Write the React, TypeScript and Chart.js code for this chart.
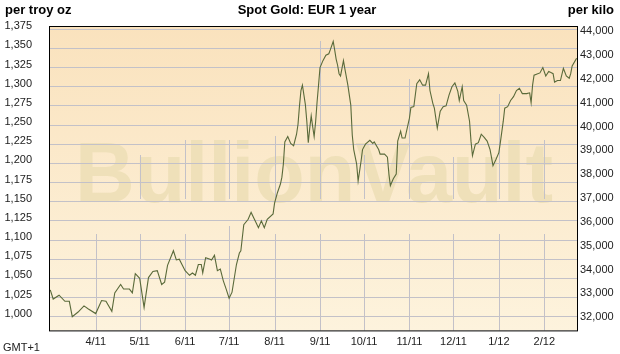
import React, { useEffect, useRef } from "react";
import { Chart, registerables } from "chart.js";

Chart.register(...registerables);

// x values: day number counted from 1 Jan 2011 (day 0)
const days = [
  59, 61, 65, 69, 72, 74, 78, 82, 85, 90, 94, 97, 101, 103, 107, 109, 113, 115, 117, 120,
  123, 126, 129, 132, 135, 137, 139, 143, 145, 147, 151, 154, 156, 158, 160, 162, 163, 165, 168, 169,
  171, 173, 175, 177, 179, 181, 183, 186, 188, 189, 191, 194, 196, 199, 201, 203, 205, 207, 211, 212,
  214, 216, 217, 218, 219, 221, 223, 225, 227, 228, 229, 230, 231, 233, 234, 235, 236, 237, 238, 239,
  240, 241, 242, 243, 245, 247, 249, 250, 252, 253, 254, 255, 256, 257, 259, 260, 262, 264, 265, 266,
  268, 269, 271, 272, 274, 277, 279, 280, 283, 284, 287, 289, 290, 291, 293, 295, 296, 298, 299, 301,
  304, 305, 307, 309, 311, 313, 315, 317, 318, 320, 321, 323, 325, 327, 329, 331, 333, 335, 337, 338,
  340, 341, 343, 345, 346, 347, 349, 351, 353, 355, 357, 359, 361, 363, 365, 366, 368, 369, 371, 373,
  375, 377, 379, 381, 384, 386, 387, 388, 389, 393, 395, 397, 399, 402, 403, 405, 407, 409, 411, 413,
  414, 415, 418,
];

// EUR per troy ounce
const prices = [
  1035, 1023, 1028, 1020, 1020, 1000, 1006, 1014, 1010, 1004, 1021, 1020, 1007, 1031, 1042, 1036, 1036, 1031, 1056, 1050,
  1012, 1051, 1059, 1060, 1042, 1045, 1067, 1086, 1074, 1075, 1060, 1054, 1057, 1054, 1068, 1068, 1057, 1077, 1075, 1074,
  1080, 1060, 1062, 1047, 1036, 1024, 1032, 1068, 1083, 1086, 1120, 1127, 1136, 1124, 1116, 1125, 1116, 1127, 1134, 1148,
  1162, 1173, 1182, 1199, 1228, 1235, 1226, 1223, 1238, 1251, 1275, 1295, 1302, 1277, 1255, 1227, 1246, 1262, 1248, 1235,
  1254, 1280, 1302, 1325, 1334, 1341, 1343, 1348, 1359, 1348, 1336, 1328, 1317, 1314, 1334, 1323, 1302, 1276, 1237, 1218,
  1199, 1177, 1203, 1218, 1225, 1230, 1226, 1228, 1218, 1212, 1212, 1208, 1186, 1171, 1180, 1186, 1229, 1242, 1233, 1233,
  1259, 1273, 1274, 1304, 1309, 1302, 1302, 1317, 1295, 1278, 1272, 1246, 1268, 1274, 1275, 1289, 1300, 1305, 1294, 1282,
  1300, 1282, 1276, 1255, 1229, 1210, 1225, 1227, 1238, 1234, 1229, 1218, 1197, 1205, 1214, 1227, 1255, 1272, 1274, 1282,
  1287, 1295, 1298, 1291, 1291, 1292, 1279, 1302, 1315, 1318, 1325, 1314, 1320, 1317, 1306, 1308, 1308, 1324, 1314, 1311,
  1317, 1327, 1337,
];

const monthDays = [90, 120, 151, 181, 212, 243, 273, 304, 334, 365, 396];
const monthLabels = ["4/11", "5/11", "6/11", "7/11", "8/11", "9/11", "10/11", "11/11", "12/11", "1/12", "2/12"];
const ozTicks = [1000, 1025, 1050, 1075, 1100, 1125, 1150, 1175, 1200, 1225, 1250, 1275, 1300, 1325, 1350, 1375];
const kiloTicks = [32000, 33000, 34000, 35000, 36000, 37000, 38000, 39000, 40000, 41000, 42000, 43000, 44000];

const OZ_PER_KILO = 32.1507;
const X_MIN = 58.14;
const X_MAX = 418.3;
const Y_MIN = 982.06;
const Y_MAX = 1379.2;

const fmt = (v: number) => Math.round(v).toLocaleString("en-US");

// visible pieces of the month grid lines (price units), a quirk of the original image
const upperTops = [null, 1211, 1231, 1231, 1236, 1360, 1211, 1310, 1208, 1290, 1231];
const UPPER_BOTTOM = 1154;
const LOWER_TOP = [1108, 1108, 1108, 1118, 1108, 1108, 1108, 1108, 1108, 1108, 1108];

const decorPlugin = {
  id: "decor",
  beforeDraw(chart: any) {
    const { ctx, chartArea: a, scales } = chart;
    const x = scales.x;
    const y = scales.y;
    ctx.save();
    ctx.fillStyle = "#ffffff";
    ctx.fillRect(0, 0, chart.width, chart.height);
    const g = ctx.createLinearGradient(0, a.top, 0, a.bottom);
    g.addColorStop(0, "#fae2bd");
    g.addColorStop(1, "#fdf3dd");
    ctx.fillStyle = g;
    ctx.fillRect(a.left, a.top, a.right - a.left, a.bottom - a.top);

    // watermark
    ctx.font = "bold 86px 'Liberation Sans', Arial, sans-serif";
    ctx.textBaseline = "alphabetic";
    ctx.textAlign = "left";
    const text = "BullionVault";
    const w = ctx.measureText(text).width;
    const targetW = 478;
    ctx.fillStyle = "#efe0b9";
    ctx.save();
    ctx.translate(a.left + 26, a.top + 176);
    ctx.scale(targetW / w, 1);
    ctx.fillText(text, 0, 0);
    ctx.restore();

    // month grid lines
    ctx.strokeStyle = "#c3c1c8";
    ctx.lineWidth = 1;
    monthDays.forEach((d, i) => {
      const px = Math.round(x.getPixelForValue(d)) + 0.5;
      ctx.beginPath();
      ctx.moveTo(px, a.bottom);
      ctx.lineTo(px, Math.round(y.getPixelForValue(LOWER_TOP[i])));
      const t = upperTops[i];
      if (t !== null) {
        ctx.moveTo(px, Math.round(y.getPixelForValue(UPPER_BOTTOM)));
        ctx.lineTo(px, Math.round(y.getPixelForValue(t)));
      }
      ctx.stroke();
    });
    ctx.restore();
  },
  afterDraw(chart: any) {
    const { ctx, chartArea: a } = chart;
    ctx.save();
    ctx.strokeStyle = "#000000";
    ctx.lineWidth = 1;
    ctx.strokeRect(a.left + 0.5, a.top + 0.5, a.right - a.left, a.bottom - a.top);

    ctx.fillStyle = "#000000";
    ctx.textBaseline = "middle";
    ctx.font = "bold 13px 'Liberation Sans Narrow', 'Liberation Sans', Arial, sans-serif";
    ctx.textAlign = "left";
    ctx.fillText("per troy oz", 5, 10);
    ctx.textAlign = "center";
    ctx.fillText("Spot Gold: EUR 1 year", 307, 10);
    ctx.textAlign = "right";
    ctx.fillText("per kilo", 614, 10);

    ctx.font = "11px 'Liberation Sans', Arial, sans-serif";
    ctx.textAlign = "left";
    ctx.fillStyle = "#222222";
    ctx.fillText("GMT+1", 3, 348);
    ctx.restore();
  },
};

export default function App() {
  const ref = useRef<HTMLCanvasElement | null>(null);
  useEffect(() => {
    document.body.style.margin = "0";
    const canvas = ref.current!;
    const tickFont = { family: "'Liberation Sans', Arial, sans-serif", size: 11 };
    const chart = new Chart(canvas, {
      type: "line",
      data: {
        datasets: [
          {
            data: days.map((d, i) => ({ x: d, y: prices[i] })),
            borderColor: "#5a6a3a",
            borderWidth: 1.1,
            pointRadius: 0,
            tension: 0,
            fill: false,
            yAxisID: "y",
          },
        ],
      },
      options: {
        responsive: false,
        animation: false,
        devicePixelRatio: 1,
        layout: { padding: { top: 26, left: 0, right: 0, bottom: 0 } },
        plugins: { legend: { display: false }, tooltip: { enabled: false }, title: { display: false } },
        scales: {
          x: {
            type: "linear",
            min: X_MIN,
            max: X_MAX,
            afterBuildTicks: (s: any) => {
              s.ticks = monthDays.map((v) => ({ value: v }));
            },
            afterFit: (s: any) => {
              s.height = 18;
            },
            grid: { display: false, drawTicks: false },
            border: { display: false },
            ticks: {
              autoSkip: false,
              maxRotation: 0,
              padding: 5,
              color: "#222222",
              font: tickFont,
              callback: (v: any) => {
                const i = monthDays.indexOf(Number(v));
                return i >= 0 ? monthLabels[i] : "";
              },
            },
          },
          y: {
            position: "left",
            min: Y_MIN,
            max: Y_MAX,
            afterBuildTicks: (s: any) => {
              s.ticks = ozTicks.map((v) => ({ value: v }));
            },
            afterFit: (s: any) => {
              s.width = 49;
            },
            grid: { color: "#c3c1c8", lineWidth: 1, drawTicks: false },
            border: { display: false },
            ticks: {
              padding: 17,
              labelOffset: -3,
              color: "#222222",
              font: tickFont,
              callback: (v: any) => fmt(Number(v)),
            },
          },
          y2: {
            position: "right",
            display: true,
            min: Y_MIN * OZ_PER_KILO,
            max: Y_MAX * OZ_PER_KILO,
            afterBuildTicks: (s: any) => {
              s.ticks = kiloTicks.map((v) => ({ value: v }));
            },
            afterFit: (s: any) => {
              s.width = 43;
            },
            grid: { display: false, drawTicks: false },
            border: { display: false },
            ticks: {
              padding: 3,
              labelOffset: -3,
              color: "#222222",
              font: tickFont,
              callback: (v: any) => fmt(Number(v)),
            },
          },
        },
      } as any,
      plugins: [decorPlugin],
    });
    return () => chart.destroy();
  }, []);
  return (
    <canvas
      ref={ref}
      width={620}
      height={354}
      style={{ position: "absolute", left: 0, top: 0, width: 620, height: 354 }}
    />
  );
}
